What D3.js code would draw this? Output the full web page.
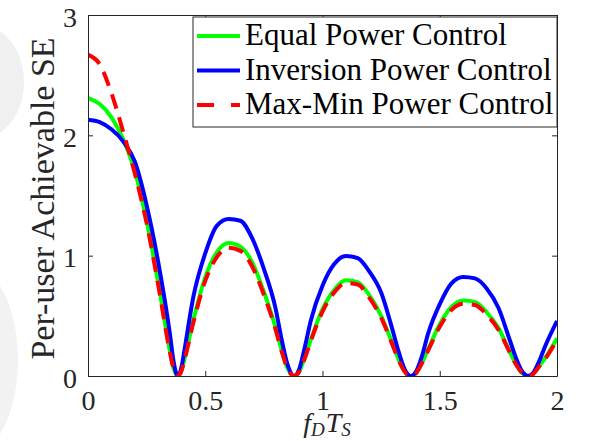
<!DOCTYPE html>
<html>
<head>
<meta charset="utf-8">
<script src="https://cdn.jsdelivr.net/npm/d3@7"></script>
<style>
  body { margin: 0; background: #fff; }
  svg { display: block; }
</style>
</head>
<body>
<svg id="chart"></svg>
<script>
// f_D T_S sample points (extra points sit at the zeros of each lobe)
const xs = [0, 0.05, 0.1, 0.15, 0.2, 0.25, 0.3, 0.35, 0.365, 0.383, 0.4, 0.41, 0.45, 0.5, 0.55, 0.6, 0.65, 0.7, 0.75, 0.8,
  0.825, 0.85, 0.879, 0.9, 0.925, 0.95, 1.0, 1.05, 1.1, 1.15, 1.2, 1.25, 1.3, 1.325, 1.35, 1.377, 1.4, 1.425, 1.45, 1.5,
  1.55, 1.6, 1.65, 1.7, 1.75, 1.8, 1.825, 1.85, 1.877, 1.9, 1.925, 1.95, 2.0]

const equalSE = [2.31, 2.26, 2.15, 1.97, 1.70, 1.29, 0.77, 0.20, 0.065, 0, 0.055, 0.13, 0.47, 0.82, 1.03, 1.105, 1.075, 0.945, 0.70, 0.40,
  0.22, 0.07, 0, 0.036, 0.16, 0.30, 0.555, 0.715, 0.795, 0.78, 0.67, 0.50, 0.26, 0.135, 0.038, 0, 0.027, 0.115, 0.22, 0.43,
  0.575, 0.627, 0.615, 0.53, 0.40, 0.195, 0.10, 0.028, 0, 0.02, 0.086, 0.15, 0.313]

const inversionSE = [2.13, 2.11, 2.05, 1.95, 1.78, 1.42, 0.94, 0.34, 0.12, 0, 0.085, 0.20, 0.665, 1.02, 1.25, 1.305, 1.29, 1.145, 0.89, 0.56,
  0.31, 0.10, 0, 0.054, 0.244, 0.46, 0.75, 0.93, 0.998, 0.98, 0.868, 0.694, 0.373, 0.20, 0.057, 0, 0.041, 0.172, 0.35, 0.597,
  0.77, 0.823, 0.811, 0.728, 0.567, 0.291, 0.149, 0.042, 0, 0.03, 0.128, 0.25, 0.457]

const maxMinSE = [2.67, 2.59, 2.35, 2.03, 1.68, 1.27, 0.75, 0.19, 0.06, 0, 0.05, 0.12, 0.45, 0.79, 0.99, 1.065, 1.04, 0.91, 0.675, 0.385,
  0.21, 0.065, 0, 0.034, 0.15, 0.29, 0.535, 0.695, 0.772, 0.76, 0.65, 0.485, 0.25, 0.13, 0.036, 0, 0.026, 0.11, 0.21, 0.41,
  0.55, 0.60, 0.59, 0.51, 0.385, 0.19, 0.097, 0.027, 0, 0.019, 0.082, 0.143, 0.30]

const seriesNames = ['Equal Power Control', 'Inversion Power Control', 'Max-Min Power Control']
const xTicks = [0, 0.5, 1, 1.5, 2]
const yTicks = [0, 1, 2, 3]

const width = 601
const height = 441
const margin = { top: 15, right: 44, bottom: 65, left: 88 }
const serif = '"Liberation Serif", "Times New Roman", serif'
const axisColor = '#262626'

const series = [
  { name: seriesNames[0], values: equalSE, color: '#00ff00', dash: null },
  { name: seriesNames[1], values: inversionSE, color: '#0000ff', dash: null },
  { name: seriesNames[2], values: maxMinSE, color: '#ff0000', dash: '15,9' }
]

const svg = d3.select('#chart').attr('width', width).attr('height', height)

// faint watermark bits on the left edge of the scan
svg.append('ellipse').attr('cx', -22).attr('cy', 82).attr('rx', 46).attr('ry', 58).attr('fill', '#f0f0f0')
svg.append('ellipse').attr('cx', -30).attr('cy', 360).attr('rx', 48).attr('ry', 95).attr('fill', '#f2f2f2')

const x = d3.scaleLinear().domain([0, 2]).range([margin.left, width - margin.right])
const y = d3.scaleLinear().domain([0, 3]).range([height - margin.bottom, margin.top])

svg.append('defs').append('clipPath').attr('id', 'plot-clip')
  .append('rect')
  .attr('x', x(0)).attr('y', y(3))
  .attr('width', x(2) - x(0)).attr('height', y(0) - y(3))

const line = d3.line()
  .x((d) => x(d[0]))
  .y((d) => y(d[1]))
  .curve(d3.curveMonotoneX)

const plot = svg.append('g').attr('clip-path', 'url(#plot-clip)')

series.forEach((s) => {
  plot.append('path')
    .datum(xs.map((v, i) => [v, s.values[i]]))
    .attr('fill', 'none')
    .attr('stroke', s.color)
    .attr('stroke-width', 4)
    .attr('stroke-dasharray', s.dash)
    .attr('d', line)
})

// axes box with inward ticks on all four sides
const tickLen = 5
const fmt = d3.format('')
const drawAxis = (axis, transform) => {
  const g = svg.append('g').attr('transform', transform).call(axis)
  g.attr('font-family', null)
  g.select('.domain').attr('stroke', axisColor)
  g.selectAll('.tick line').attr('stroke', axisColor)
  g.selectAll('.tick text')
    .style('font-family', serif)
    .style('font-size', '28px')
    .attr('fill', axisColor)
  return g
}

drawAxis(d3.axisBottom(x).tickValues(xTicks).tickFormat(fmt).tickSizeInner(-tickLen).tickSizeOuter(0).tickPadding(14),
  `translate(0,${y(0)})`)
drawAxis(d3.axisTop(x).tickValues(xTicks).tickSizeInner(-tickLen).tickSizeOuter(0).tickFormat(''),
  `translate(0,${y(3)})`)
drawAxis(d3.axisLeft(y).tickValues(yTicks).tickFormat(fmt).tickSizeInner(-tickLen).tickSizeOuter(0).tickPadding(11),
  `translate(${x(0)},0)`)
  .selectAll('.tick text').attr('dy', '0.4em')
drawAxis(d3.axisRight(y).tickValues(yTicks).tickSizeInner(-tickLen).tickSizeOuter(0).tickFormat(''),
  `translate(${x(2)},0)`)

// y label
svg.append('text')
  .attr('transform', `translate(54,${(y(0) + y(3)) / 2 + 3}) rotate(-90)`)
  .attr('text-anchor', 'middle')
  .style('font-family', serif)
  .style('font-size', '34px')
  .attr('fill', axisColor)
  .text('Per-user Achievable SE')

// x label: f_D T_S
const xl = svg.append('text')
  .attr('x', 327)
  .attr('y', 432)
  .attr('text-anchor', 'middle')
  .style('font-family', serif)
  .style('font-size', '28px')
  .style('font-style', 'italic')
  .attr('fill', axisColor)
xl.append('tspan').text('f')
xl.append('tspan').style('font-size', '19px').attr('dy', 4).text('D')
xl.append('tspan').attr('dy', -4).attr('dx', 1).text('T')
xl.append('tspan').style('font-size', '19px').attr('dy', 4).text('S')

// legend
const legend = { x: 193, y: 17, w: 364, h: 110 }
const lg = svg.append('g')
lg.append('rect')
  .attr('x', legend.x).attr('y', legend.y)
  .attr('width', legend.w).attr('height', legend.h)
  .attr('fill', '#fff')
  .attr('stroke', axisColor)
  .attr('stroke-width', 1)

series.forEach((s, i) => {
  const baseY = 45 + i * 34.5
  lg.append('line')
    .attr('x1', 197).attr('x2', 240)
    .attr('y1', baseY - 9).attr('y2', baseY - 9)
    .attr('stroke', s.color)
    .attr('stroke-width', 4)
    .attr('stroke-dasharray', s.dash ? '17,17' : null)
  lg.append('text')
    .attr('x', 245).attr('y', baseY)
    .style('font-family', serif)
    .style('font-size', '31px')
    .attr('fill', '#000')
    .text(s.name)
})
</script>
</body>
</html>
